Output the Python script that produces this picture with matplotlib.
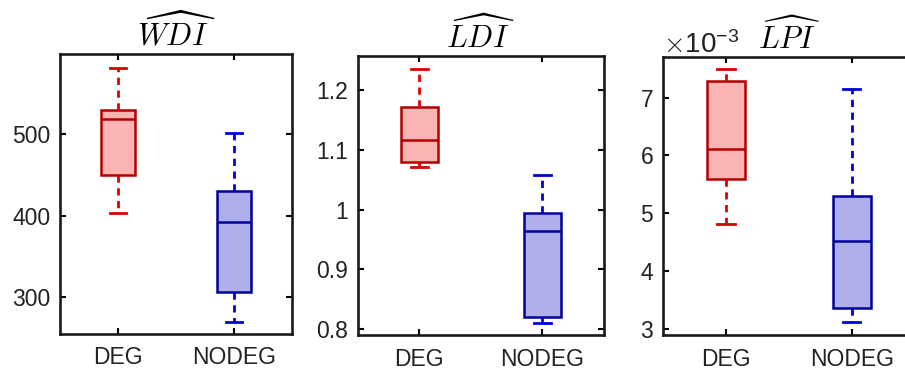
import matplotlib
matplotlib.use('Agg')
import matplotlib.pyplot as plt
from matplotlib.ticker import ScalarFormatter

plt.rcParams['font.family'] = ['Liberation Sans', 'DejaVu Sans']
plt.rcParams['mathtext.fontset'] = 'cm'

# ---------- data ---------- #
groups = ['DEG', 'NODEG']
titles = [r'$\widehat{WDI}$', r'$\widehat{LDI}$', r'$\widehat{LPI}$']

# per panel: [DEG, NODEG]
whislo = [[403.7, 269.0], [1.072, 0.810], [4.81e-3, 3.11e-3]]
q1 = [[450.0, 306.0], [1.079, 0.820], [5.59e-3, 3.36e-3]]
med = [[518.8, 391.8], [1.1156, 0.9644], [6.12e-3, 4.51e-3]]
q3 = [[530.0, 430.6], [1.172, 0.9945], [7.29e-3, 5.29e-3]]
whishi = [[582.0, 502.0], [1.236, 1.0586], [7.49e-3, 7.145e-3]]

ylims = [(254, 599), (0.79, 1.257), (2.89e-3, 7.70e-3)]
yticks = [[300, 400, 500], [0.8, 0.9, 1.0, 1.1, 1.2], [3e-3, 4e-3, 5e-3, 6e-3, 7e-3]]
yticklabels = [['300', '400', '500'], ['0.8', '0.9', '1', '1.1', '1.2'], None]

# ---------- styles ---------- #
edge_cols = ['#b40000', '#00009c']
fill_cols = ['#fab4b4', '#afafeb']
whisk_cols = ['#dc0000', '#0000dc']

# axes rectangles in figure fraction (W=905, H=369)
rects = [
    [60 / 905, 1 - 334 / 369, 232 / 905, 280 / 369],
    [357.7 / 905, 1 - 335 / 369, 246.3 / 905, 279 / 369],
    [663.3 / 905, 1 - 335 / 369, 251.2 / 905, 277.7 / 369],
]

fig = plt.figure(figsize=(9.05, 3.69), dpi=100)

for p in range(3):
    ax = fig.add_axes(rects[p])
    for g in range(2):
        stats = [dict(med=med[p][g], q1=q1[p][g], q3=q3[p][g],
                      whislo=whislo[p][g], whishi=whishi[p][g], fliers=[])]
        ax.bxp(stats, positions=[g + 1], widths=0.3, patch_artist=True,
               showfliers=False,
               boxprops=dict(facecolor=fill_cols[g], edgecolor=edge_cols[g], linewidth=1.8),
               medianprops=dict(color=edge_cols[g], linewidth=1.8),
               whiskerprops=dict(color=whisk_cols[g], linewidth=2.0, linestyle=(0, (2.6, 2.0))),
               capprops=dict(color=whisk_cols[g], linewidth=2.0),
               capwidths=0.14)
    ax.set_xlim(0.5, 2.5)
    ax.set_ylim(*ylims[p])
    ax.set_xticks([1, 2])
    ax.set_xticklabels(groups)
    ax.set_yticks(yticks[p])
    if yticklabels[p] is not None:
        ax.set_yticklabels(yticklabels[p])
    else:
        fmt = ScalarFormatter(useMathText=True)
        fmt.set_powerlimits((-3, -3))
        ax.yaxis.set_major_formatter(fmt)
        ax.yaxis.get_offset_text().set_fontsize(20)
        ax.yaxis.get_offset_text().set_color('#262626')
    ax.tick_params(direction='in', length=4, width=1.5, top=True, right=True,
                   labelsize=16.5, color='black', labelcolor='#222222')
    ax.tick_params(axis='y', pad=7)
    ax.tick_params(axis='x', pad=9)
    for s in ax.spines.values():
        s.set_linewidth(1.9)
        s.set_color('#1a1a1a')
    ax.set_title(titles[p], fontsize=22, pad=6)

fig.savefig('out.png', dpi=100)
